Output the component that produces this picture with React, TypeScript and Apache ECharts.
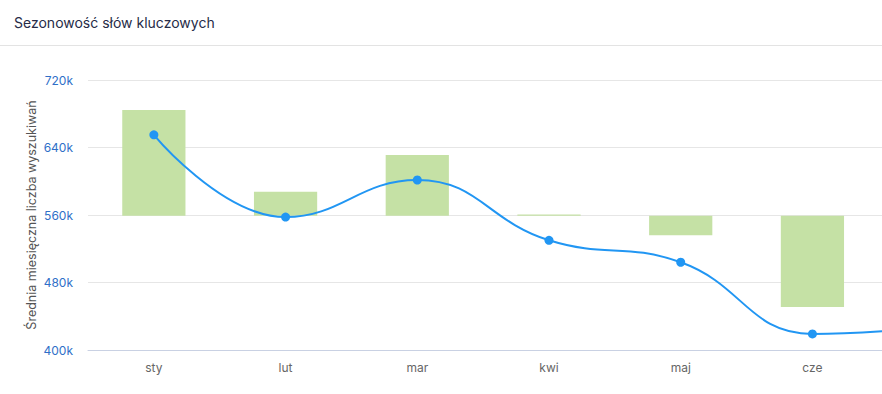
import React, { useEffect, useRef } from "react";
import * as echarts from "echarts";

const months = ["sty", "lut", "mar", "kwi", "maj", "cze", "lip"];
const searchVolume = [655, 557.5, 601.5, 530, 504, 419, 428];
const barBaseline = [559, 559, 559, 559, 559, 559, 559];
const barEnd = [684.5, 587.5, 631, 560.5, 536, 451, 462];
const yTicks = { min: 400, max: 720, interval: 80 };
const visibleMonths = 6;

const FONT = "Inter, 'Open Sans', sans-serif";

export default function App() {
  const ref = useRef<HTMLDivElement>(null);
  useEffect(() => {
    if (!ref.current) return;
    const chart = echarts.init(ref.current, undefined, { renderer: "svg" });
    const low = barEnd.map((v, i) => Math.min(v, barBaseline[i]));
    const delta = barEnd.map((v, i) => Math.abs(v - barBaseline[i]));
    chart.setOption({
      animation: false,
      textStyle: { fontFamily: FONT },
      title: {
        text: "Sezonowość słów kluczowych",
        left: 9,
        top: 10,
        textStyle: { fontSize: 14, fontWeight: "normal", color: "#262b47", fontFamily: FONT },
      },
      graphic: [
        {
          type: "line",
          shape: { x1: 0, y1: 45.5, x2: 882, y2: 45.5 },
          style: { stroke: "#e3e3e3", lineWidth: 1 },
          silent: true,
        },
      ],
      grid: { left: 88, right: 0, top: 80, bottom: 44 },
      xAxis: {
        type: "category",
        data: months,
        axisTick: { show: false },
        axisLine: { lineStyle: { color: "#c9d1e3" } },
        axisLabel: {
          color: "#666",
          fontSize: 12,
          margin: 11,
          fontFamily: FONT,
          interval: (i: number) => i < visibleMonths,
        },
      },
      yAxis: {
        type: "value",
        min: yTicks.min,
        max: yTicks.max,
        interval: yTicks.interval,
        name: "Średnia miesięczna liczba wyszukiwań",
        nameLocation: "middle",
        nameGap: 50,
        nameMoveOverlap: false,
        nameTextStyle: { color: "#555", fontSize: 12.5, fontFamily: FONT },
        axisLabel: {
          color: "#2f6fc8",
          fontSize: 12,
          margin: 15,
          fontFamily: FONT,
          formatter: (v: number) => v + "k",
        },
        splitLine: { lineStyle: { color: "#e6e6e6" } },
      },
      series: [
        {
          type: "bar",
          stack: "s",
          data: low,
          itemStyle: { color: "transparent" },
          barWidth: "48%",
          silent: true,
        },
        {
          type: "bar",
          stack: "s",
          data: delta,
          itemStyle: { color: "#c5e1a5" },
          barWidth: "48%",
          barMinHeight: 1,
        },
        {
          type: "line",
          data: searchVolume,
          smooth: 0.45,
          symbol: "circle",
          symbolSize: 9,
          lineStyle: { color: "#2196f3", width: 2 },
          itemStyle: { color: "#2196f3" },
          z: 5,
        },
      ],
    });
    return () => chart.dispose();
  }, []);
  return (
    <div style={{ position: "fixed", left: 0, top: 0, width: 882, height: 394, overflow: "hidden", background: "#fff" }}>
      <div ref={ref} style={{ width: 1010, height: 394 }} />
    </div>
  );
}
